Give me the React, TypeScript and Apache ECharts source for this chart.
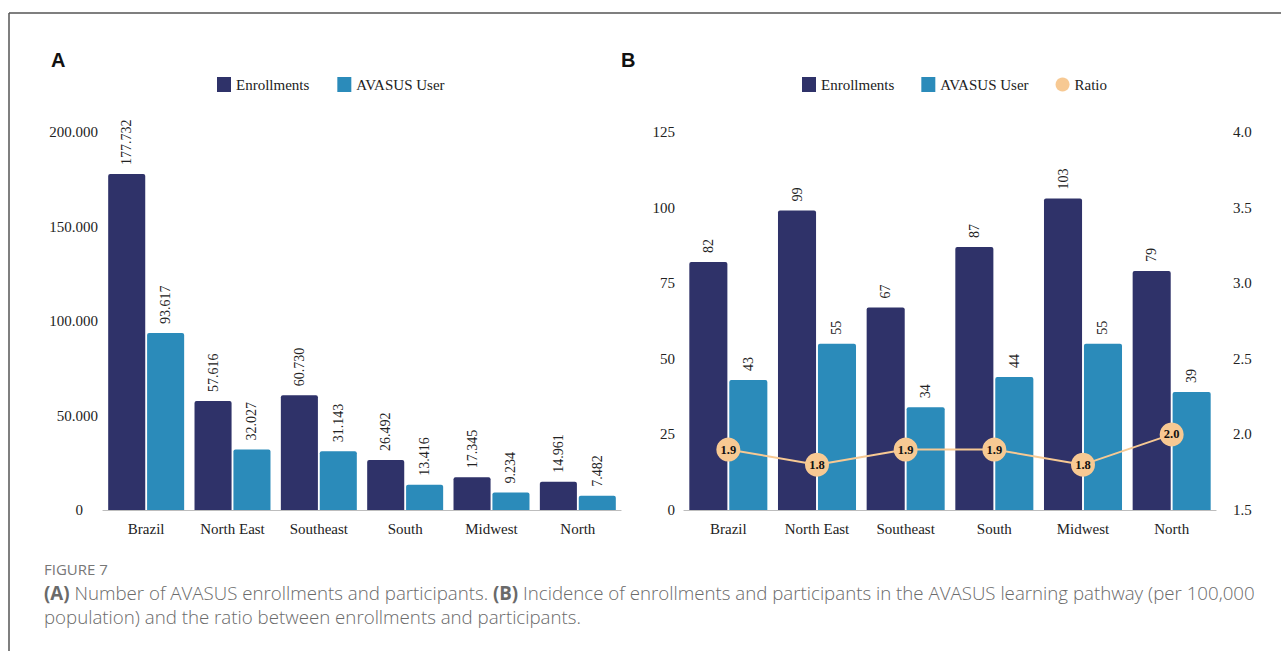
import React, { useEffect, useRef } from "react";
import * as echarts from "echarts";

const regions = ["Brazil", "North East", "Southeast", "South", "Midwest", "North"];
const enrollA = [177732, 57616, 60730, 26492, 17345, 14961];
const usersA = [93617, 32027, 31143, 13416, 9234, 7482];
const enrollB = [82, 99, 67, 87, 103, 79];
const usersB = [43, 55, 34, 44, 55, 39];
const ratioB = [1.9, 1.8, 1.9, 1.9, 1.8, 2.0];

const NAVY = "#2f3269";
const BLUE = "#2b8bba";
const PEACH = "#f7c993";
const SERIF = "'Liberation Serif', 'Times New Roman', serif";
const CAP_FONT = "'Open Sans', 'Noto Sans', sans-serif";

const dots = (v: number) => String(v).replace(/\B(?=(\d{3})+(?!\d))/g, ".");

export default function App() {
  const ref = useRef<HTMLDivElement>(null);
  useEffect(() => {
    if (!ref.current) return;
    const chart = echarts.init(ref.current, null, { renderer: "svg" });
    const barLabel = (fmt?: (v: number) => string) => ({
      show: true,
      position: "top",
      rotate: 90,
      align: "left",
      verticalAlign: "middle",
      distance: 9,
      color: "#222",
      fontFamily: SERIF,
      fontSize: 14,
      formatter: (p: any) => (fmt ? fmt(p.value) : String(p.value)),
    });
    const barCommon = {
      barGap: "5%",
      barCategoryGap: "12%",
    };
    const axisX = (gridIndex: number) => ({
      type: "category",
      gridIndex,
      data: regions,
      axisTick: { show: false },
      axisLine: { lineStyle: { color: "#bdbdbd", width: 1.2 } },
      axisLabel: { color: "#222", fontFamily: SERIF, fontSize: 15, margin: 11 },
    });
    const legendText = { fontFamily: SERIF, fontSize: 15, color: "#222" };
    const option: any = {
      animation: false,
      backgroundColor: "#fff",
      textStyle: { fontFamily: SERIF },
      legend: [
        {
          left: 212,
          top: 72,
          itemWidth: 14,
          itemHeight: 15,
          itemGap: 28,
          textStyle: legendText,
          formatter: (n: string) => n.trim(),
          data: [
            { name: "Enrollments", icon: "rect" },
            { name: "AVASUS User", icon: "rect" },
          ],
        },
        {
          left: 797,
          top: 72,
          itemWidth: 14,
          itemHeight: 15,
          itemGap: 27,
          textStyle: legendText,
          formatter: (n: string) => n.trim(),
          data: [
            { name: "Enrollments ", icon: "rect" },
            { name: "AVASUS User ", icon: "rect" },
            { name: "Ratio", icon: "circle", itemStyle: { color: PEACH } },
          ],
        },
      ],
      grid: [
        { left: 103, width: 518, top: 132, bottom: 141 },
        { left: 684, width: 532, top: 132, bottom: 141 },
      ],
      xAxis: [axisX(0), axisX(1)],
      yAxis: [
        {
          type: "value",
          gridIndex: 0,
          min: 0,
          max: 200000,
          interval: 50000,
          splitLine: { show: false },
          axisLine: { show: false },
          axisTick: { show: false },
          axisLabel: {
            color: "#222",
            fontFamily: SERIF,
            fontSize: 15,
            margin: 5,
            formatter: (v: number) => (v === 0 ? "{z|0}" : dots(v)),
            rich: { z: { fontFamily: SERIF, fontSize: 15, color: "#222", padding: [0, 15, 0, 0] } },
          },
        },
        {
          type: "value",
          gridIndex: 1,
          min: 0,
          max: 125,
          interval: 25,
          splitLine: { show: false },
          axisLine: { show: false },
          axisTick: { show: false },
          axisLabel: { color: "#222", fontFamily: SERIF, fontSize: 15, margin: 9 },
        },
        {
          type: "value",
          gridIndex: 1,
          position: "right",
          min: 1.5,
          max: 4.0,
          interval: 0.5,
          splitLine: { show: false },
          axisLine: { show: false },
          axisTick: { show: false },
          axisLabel: {
            color: "#222",
            fontFamily: SERIF,
            fontSize: 15,
            margin: 17,
            formatter: (v: number) => v.toFixed(1),
          },
        },
      ],
      series: [
        {
          name: "Enrollments",
          type: "bar",
          xAxisIndex: 0,
          yAxisIndex: 0,
          data: enrollA,
          itemStyle: { color: NAVY, borderRadius: [2, 2, 0, 0] },
          label: barLabel(dots),
          ...barCommon,
        },
        {
          name: "AVASUS User",
          type: "bar",
          xAxisIndex: 0,
          yAxisIndex: 0,
          data: usersA,
          itemStyle: { color: BLUE, borderRadius: [2, 2, 0, 0] },
          label: barLabel(dots),
          ...barCommon,
        },
        {
          name: "Enrollments ",
          type: "bar",
          xAxisIndex: 1,
          yAxisIndex: 1,
          data: enrollB,
          itemStyle: { color: NAVY, borderRadius: [2, 2, 0, 0] },
          label: barLabel(),
          ...barCommon,
        },
        {
          name: "AVASUS User ",
          type: "bar",
          xAxisIndex: 1,
          yAxisIndex: 1,
          data: usersB,
          itemStyle: { color: BLUE, borderRadius: [2, 2, 0, 0] },
          label: barLabel(),
          ...barCommon,
        },
        {
          name: "Ratio",
          type: "line",
          xAxisIndex: 1,
          yAxisIndex: 2,
          data: ratioB,
          symbol: "circle",
          symbolSize: 24,
          z: 5,
          itemStyle: { color: PEACH },
          lineStyle: { color: PEACH, width: 2 },
          label: {
            show: true,
            position: "inside",
            color: "#111",
            fontFamily: SERIF,
            fontWeight: "bold",
            fontSize: 12.5,
            formatter: (p: any) => Number(p.value).toFixed(1),
          },
        },
      ],
      graphic: [
        {
          type: "line",
          shape: { x1: 9, y1: 13, x2: 1281, y2: 13 },
          style: { stroke: "#555", lineWidth: 1.5 },
          silent: true,
        },
        {
          type: "line",
          shape: { x1: 9, y1: 13, x2: 9, y2: 651 },
          style: { stroke: "#555", lineWidth: 1.5 },
          silent: true,
        },
        {
          type: "text",
          left: 51,
          top: 50,
          style: { text: "A", font: "bold 20px 'Liberation Sans', Arial, sans-serif", fill: "#111" },
        },
        {
          type: "text",
          left: 621,
          top: 50,
          style: { text: "B", font: "bold 20px 'Liberation Sans', Arial, sans-serif", fill: "#111" },
        },
        {
          type: "text",
          left: 44,
          top: 561,
          style: { text: "FIGURE 7", font: `400 15px ${CAP_FONT}`, fill: "#777" },
        },
        {
          type: "text",
          left: 44,
          top: 583,
          style: {
            text: "{b|(A)} Number of AVASUS enrollments and participants. {b|(B)} Incidence of enrollments and participants in the AVASUS learning pathway (per 100,000",
            font: `300 18.7px ${CAP_FONT}`,
            fill: "#6a6a6a",
            rich: {
              b: { fontFamily: CAP_FONT, fontSize: 18.7, fontWeight: "bold", color: "#555" },
            },
          },
        },
        {
          type: "text",
          left: 44,
          top: 607,
          style: {
            text: "population) and the ratio between enrollments and participants.",
            font: `300 18.7px ${CAP_FONT}`,
            fill: "#6a6a6a",
          },
        },
      ],
    };
    chart.setOption(option);
    return () => chart.dispose();
  }, []);
  return (
    <div
      ref={ref}
      style={{ position: "absolute", left: 0, top: 0, width: 1281, height: 651 }}
    />
  );
}
